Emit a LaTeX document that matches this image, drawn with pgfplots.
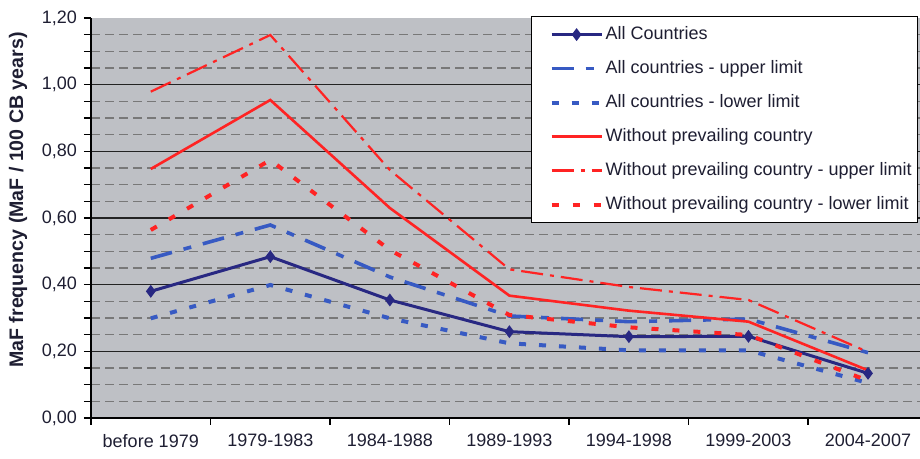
\documentclass[border=0pt]{standalone}
\usepackage{fontspec}
\setmainfont{Liberation Sans}
\usepackage{pgfplots}
\pgfplotsset{compat=1.18}
\definecolor{navyc}{RGB}{40,40,130}
\definecolor{bluec}{RGB}{55,90,195}
\definecolor{redc}{RGB}{255,35,35}
\definecolor{plotbg}{RGB}{190,192,197}
\definecolor{txt}{RGB}{30,30,50}
\definecolor{minorgrid}{RGB}{120,120,120}
\definecolor{majorgrid}{RGB}{35,35,35}
\begin{document}
\begin{tikzpicture}
\begin{axis}[
  at={(45.5pt,20.5pt)}, anchor=south west,
  scale only axis, width=414.5pt, height=200pt,
  xmin=-0.5, xmax=6.435, ymin=0, ymax=1.2,
  axis background/.style={fill=plotbg},
  axis x line*=bottom, axis y line*=left,
  axis line style={black, line width=0.8pt},
  tick align=outside,
  major tick length=3.5pt, minor tick length=3.5pt,
  xtick={0,...,6},
  xticklabels={before 1979,1979-1983,1984-1988,1989-1993,1994-1998,1999-2003,2004-2007},
  major x tick style={draw=none},
  minor xtick={-0.5,0.5,1.5,2.5,3.5,4.5,5.5},
  minor x tick style={draw=black, line width=0.8pt},
  ytick={0,0.2,0.4,0.6,0.8,1.0},
  extra y ticks={1.2},
  extra y tick style={grid=none},
  minor ytick={0.05,0.1,0.15,0.25,0.3,0.35,0.45,0.5,0.55,0.65,0.7,0.75,0.85,0.9,0.95,1.05,1.1,1.15},
  ymajorgrids, yminorgrids,
  major y grid style={majorgrid, line width=0.8pt},
  minor y grid style={minorgrid, line width=0.6pt, dash pattern=on 4.5pt off 2.5pt},
  y tick style={black, line width=0.8pt},
  tick label style={font=\fontsize{9}{10}\selectfont, text=txt},
  /pgf/number format/assume math mode=true,
  yticklabel style={/pgf/number format/.cd, fixed, fixed zerofill, precision=2, use comma},
  xticklabel style={yshift=-1pt},
  ylabel={MaF frequency (MaF / 100 CB years)},
  ylabel style={at={(axis description cs:-0.088,0.545)}, anchor=center, font=\bfseries\fontsize{9.8}{11}\selectfont, text=txt},
  legend cell align=left,
  legend style={at={(rel axis cs:0.998,1.005)}, anchor=north east, draw=black, line width=0.6pt, fill=white,
    font=\fontsize{9}{10}\selectfont, text=txt, inner xsep=2pt, inner ysep=3.5pt, row sep=6pt,
    nodes={inner sep=1pt, text height=7pt, text depth=2pt},
    /tikz/every even column/.append style={column sep=0pt}},
  legend image code/.code={\path (-7pt,0pt); \draw[mark repeat=2, mark phase=2, #1] plot coordinates {(0pt,0pt) (12.5pt,0pt) (25pt,0pt)};},
]
\addplot[navyc, line width=1.5pt, mark=diamond*, mark size=2pt, mark options={solid}]
  coordinates {(0,0.380)(1,0.484)(2,0.354)(3,0.259)(4,0.244)(5,0.245)(6,0.134)};
\addlegendentry{All Countries}
\addplot[bluec, line width=1.8pt, dash pattern=on 11pt off 6pt on 4pt off 6pt]
  coordinates {(0,0.479)(1,0.579)(2,0.423)(3,0.306)(4,0.289)(5,0.297)(6,0.196)};
\addlegendentry{All countries - upper limit}
\addplot[bluec, line width=2pt, dash pattern=on 3.5pt off 6.5pt]
  coordinates {(0,0.299)(1,0.399)(2,0.299)(3,0.224)(4,0.203)(5,0.203)(6,0.105)};
\addlegendentry{All countries - lower limit}
\addplot[redc, line width=1.3pt]
  coordinates {(0,0.747)(1,0.954)(2,0.630)(3,0.367)(4,0.322)(5,0.289)(6,0.143)};
\addlegendentry{Without prevailing country}
\addplot[redc, line width=1.1pt, dash pattern=on 11pt off 3.5pt on 2pt off 3.5pt]
  coordinates {(0,0.979)(1,1.149)(2,0.744)(3,0.446)(4,0.393)(5,0.354)(6,0.198)};
\addlegendentry{Without prevailing country - upper limit}
\addplot[redc, line width=2pt, dash pattern=on 3.5pt off 7pt]
  coordinates {(0,0.564)(1,0.774)(2,0.504)(3,0.309)(4,0.272)(5,0.249)(6,0.112)};
\addlegendentry{Without prevailing country - lower limit}
\end{axis}
\pgfresetboundingbox
\useasboundingbox (0,0) rectangle (460pt,229.5pt);
\end{tikzpicture}
\end{document}
